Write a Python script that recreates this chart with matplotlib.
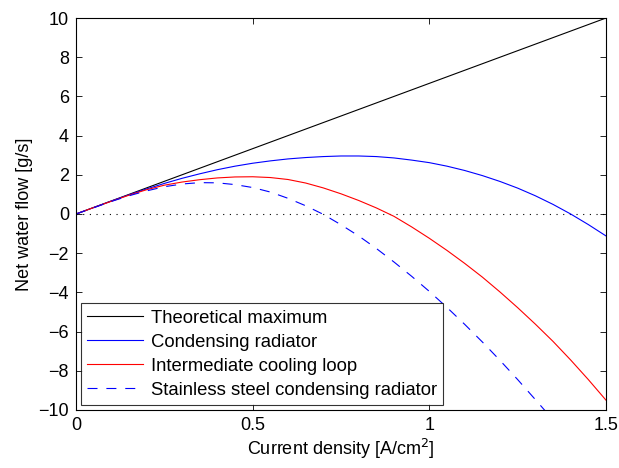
import matplotlib
matplotlib.use('Agg')
import matplotlib.pyplot as plt

plt.rcParams['font.family'] = ['Liberation Sans', 'DejaVu Sans']

# current density [A/cm2]
x = [0, 0.05, 0.1, 0.15, 0.2, 0.25, 0.3, 0.35, 0.4, 0.45, 0.5, 0.55, 0.6, 0.65, 0.7, 0.75,
     0.8, 0.85, 0.9, 0.95, 1.0, 1.05, 1.1, 1.15, 1.2, 1.25, 1.3, 1.35, 1.4, 1.45, 1.5]

theoretical_x = [0, 1.5]
theoretical = [0, 10]

condensing = [0, 0.33, 0.66, 0.98, 1.28, 1.56, 1.82, 2.05, 2.26, 2.44, 2.59, 2.71, 2.81, 2.88, 2.93, 2.96,
              2.96, 2.93, 2.86, 2.75, 2.62, 2.44, 2.22, 1.96, 1.66, 1.32, 0.93, 0.49, 0.0, -0.54, -1.12]

intermediate = [0, 0.33, 0.65, 0.96, 1.24, 1.47, 1.63, 1.75, 1.84, 1.89, 1.9, 1.86, 1.76, 1.58, 1.33, 1.03,
                0.69, 0.31, -0.12, -0.66, -1.24, -1.86, -2.52, -3.22, -3.98, -4.78, -5.62, -6.5, -7.45, -8.45, -9.5]

x_steel = x[:28]
steel = [0, 0.32, 0.64, 0.93, 1.18, 1.39, 1.53, 1.6, 1.59, 1.5, 1.35, 1.12, 0.8, 0.42, -0.02, -0.55,
         -1.12, -1.76, -2.45, -3.18, -3.95, -4.77, -5.63, -6.53, -7.47, -8.45, -9.47, -10.5]

fig = plt.figure(figsize=(6.19, 4.68), dpi=100)
ax = fig.add_axes([0.1228, 0.124, 0.8562, 0.8375])

ax.plot([0, 1.5], [0, 0], color='black', linestyle=(0, (1, 5)), linewidth=0.8)
ax.plot(theoretical_x, theoretical, color='black', linewidth=0.8, label='Theoretical maximum')
ax.plot(x, condensing, color='blue', linewidth=0.8, label='Condensing radiator')
ax.plot(x, intermediate, color='red', linewidth=0.8, label='Intermediate cooling loop')
ax.plot(x_steel, steel, color='blue', linewidth=0.8, dashes=(9, 8),
        label='Stainless steel condensing radiator')

ax.set_xlim(0, 1.5)
ax.set_ylim(-10, 10)
ax.set_xticks([0, 0.5, 1, 1.5])
ax.set_xticklabels(['0', '0.5', '1', '1.5'])
ax.set_yticks(range(-10, 11, 2))
ax.tick_params(direction='in', top=True, right=True, labelsize=13, length=4, width=0.6, pad=5)
for s in ax.spines.values():
    s.set_linewidth(0.8)

ax.set_xlabel('Current density [A/cm$^2$]', fontsize=13, labelpad=2)
ax.set_ylabel('Net water flow [g/s]', fontsize=13, labelpad=4)

leg = ax.legend(loc='lower left', fontsize=13.3, frameon=True, fancybox=False, edgecolor='black',
                handlelength=3.0, handletextpad=0.45, borderaxespad=0.25, labelspacing=0.38,
                borderpad=0.35)
leg.get_frame().set_linewidth(0.8)

fig.savefig('out.png', dpi=100)
